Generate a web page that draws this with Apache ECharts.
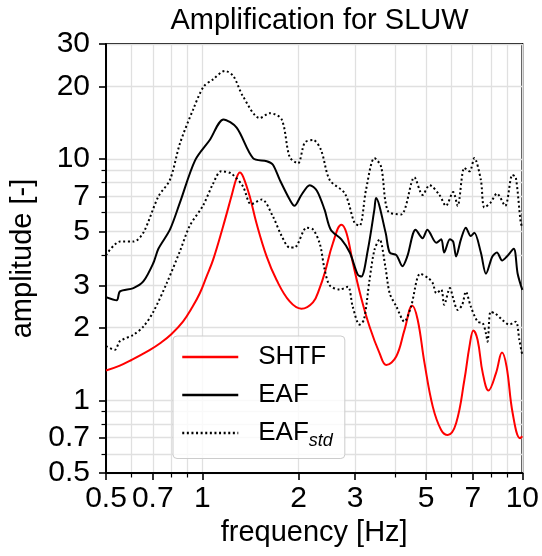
<!DOCTYPE html>
<html><head><meta charset="utf-8">
<script src="https://cdn.jsdelivr.net/npm/echarts@6/dist/echarts.min.js"></script>
<style>html,body{margin:0;padding:0;background:#fff}#c{width:542px;height:556px}</style>
</head><body><div id="c"></div>
<script>
const xTickLabels = [0.5, 0.7, 1, 2, 3, 5, 7, 10];
const xMinorTicks = [0.6, 0.8, 0.9, 4, 6, 8, 9];
const yTickLabels = [0.5, 0.7, 1, 2, 3, 5, 7, 10, 20, 30];
const yMinorTicks = [0.6, 0.8, 0.9, 4, 6, 8, 9];

const shtfFreq = [0.5, 0.55, 0.6, 0.686, 0.74, 0.8, 0.87, 0.93, 0.982, 1.03, 1.081, 1.161, 1.233, 1.279, 1.31, 1.341, 1.407, 1.476, 1.588, 1.705, 1.875, 2.039, 2.217, 2.326, 2.412, 2.56, 2.72, 2.82, 2.955, 3.139, 3.332, 3.579, 3.757, 4.036, 4.284, 4.53, 4.71, 4.946, 5.25, 5.576, 5.85, 6.21, 6.594, 6.835, 7.034, 7.25, 7.52, 7.84, 8.28, 8.64, 8.93, 9.33, 9.84, 10];
const shtfAmp = [1.33, 1.39, 1.47, 1.62, 1.73, 1.88, 2.12, 2.43, 2.78, 3.25, 3.83, 5.26, 7.01, 8.35, 8.81, 8.47, 7.0, 5.43, 3.95, 3.16, 2.57, 2.40, 2.55, 2.92, 3.37, 4.49, 5.35, 4.95, 3.71, 2.65, 2.02, 1.57, 1.40, 1.52, 1.96, 2.47, 2.16, 1.43, 0.942, 0.754, 0.719, 0.804, 1.22, 1.67, 1.95, 1.78, 1.30, 1.10, 1.30, 1.58, 1.38, 0.884, 0.697, 0.71];

const eafFreq = [0.5, 0.54, 0.553, 0.609, 0.654, 0.703, 0.729, 0.792, 0.851, 0.95, 1.055, 1.165, 1.28, 1.44, 1.59, 1.66, 1.746, 1.875, 1.94, 2.04, 2.166, 2.28, 2.41, 2.52, 2.72, 2.89, 3.06, 3.14, 3.29, 3.45, 3.49, 3.74, 3.85, 4.04, 4.22, 4.37, 4.64, 4.88, 5.05, 5.39, 5.58, 5.7, 5.94, 6.08, 6.21, 6.43, 6.66, 6.9, 7.08, 7.42, 7.7, 8.06, 8.33, 8.65, 8.95, 9.4, 9.67, 10];
const eafAmp = [2.68, 2.6, 2.83, 2.92, 3.11, 3.71, 4.25, 5.1, 6.6, 9.9, 12.0, 14.6, 13.5, 10.1, 9.8, 9.5, 8.2, 6.8, 6.4, 7.1, 7.8, 7.4, 6.17, 5.1, 4.65, 4.1, 3.32, 3.26, 4.2, 6.2, 6.9, 4.95, 4.1, 4.0, 3.6, 3.95, 5.1, 4.7, 5.1, 4.5, 4.65, 4.1, 4.65, 4.55, 3.95, 4.65, 5.2, 4.8, 4.95, 4.1, 3.35, 3.95, 4.1, 3.8, 3.95, 4.25, 3.35, 2.87];

const eafHiFreq = [0.5, 0.553, 0.609, 0.654, 0.729, 0.792, 0.851, 0.935, 1.01, 1.08, 1.176, 1.25, 1.34, 1.512, 1.625, 1.77, 1.875, 1.99, 2.09, 2.22, 2.35, 2.5, 2.79, 2.99, 3.10, 3.25, 3.45, 3.62, 3.8, 4.18, 4.6, 4.88, 5.13, 5.51, 5.77, 6.08, 6.28, 6.59, 6.84, 7.08, 7.42, 7.61, 7.96, 8.33, 8.84, 9.31, 9.54, 9.88, 10];
const eafHiAmp = [4.0, 4.55, 4.55, 4.95, 7.0, 8.2, 11.6, 16.0, 20.0, 21.4, 23.2, 22.1, 18.2, 14.8, 15.5, 14.6, 10.2, 9.6, 11.7, 12.0, 10.9, 8.2, 7.2, 5.44, 5.3, 7.5, 10.1, 9.3, 6.1, 5.9, 8.4, 7.1, 7.8, 7.1, 6.4, 7.3, 6.4, 9.2, 8.9, 10.1, 8.2, 6.3, 6.6, 7.2, 6.4, 8.6, 8.4, 5.5, 5.2];

const eafLoFreq = [0.5, 0.533, 0.553, 0.609, 0.654, 0.703, 0.774, 0.851, 0.914, 1.004, 1.08, 1.145, 1.233, 1.34, 1.42, 1.535, 1.66, 1.77, 1.875, 1.94, 2.12, 2.22, 2.33, 2.41, 2.5, 2.69, 2.85, 2.95, 3.10, 3.2, 3.33, 3.45, 3.58, 3.73, 3.85, 4.04, 4.28, 4.49, 4.8, 5.1, 5.25, 5.39, 5.58, 5.70, 5.94, 6.08, 6.28, 6.49, 6.66, 6.9, 7.25, 7.52, 7.7, 7.79, 7.96, 8.23, 8.65, 9.1, 9.54, 9.79, 9.95, 10];
const eafLoAmp = [1.68, 1.62, 1.76, 1.87, 2.02, 2.33, 3.06, 4.15, 5.3, 6.4, 7.9, 8.9, 8.7, 7.7, 6.5, 6.8, 5.8, 4.8, 4.3, 4.3, 5.2, 5.1, 4.45, 3.5, 3.0, 2.88, 2.96, 2.45, 2.06, 2.16, 3.15, 4.2, 4.65, 3.6, 2.78, 2.45, 2.12, 2.45, 3.35, 3.2, 3.06, 2.78, 2.88, 2.49, 2.92, 2.65, 2.37, 2.49, 2.82, 2.45, 2.12, 2.09, 1.89, 1.75, 2.33, 2.29, 2.16, 2.06, 2.12, 1.78, 1.59, 1.55];

const FONT = 'Liberation Sans, Arial, Helvetica, sans-serif';
const zip = (a, b) => a.map((v, i) => [v, b[i]]);
const fmt = v => String(+(+v).toPrecision(3));
const gridLine = { show: true, lineStyle: { color: '#e0e0e0', width: 1.3 } };

const chart = echarts.init(document.getElementById('c'), null, { renderer: 'canvas' });
chart.setOption({
  animation: false,
  backgroundColor: '#fff',
  title: {
    text: 'Amplification for SLUW', left: 314.5, top: 1, textAlign: 'center',
    textStyle: { fontSize: 29, fontWeight: 'normal', color: '#000', fontFamily: FONT }
  },
  grid: { left: 106, right: 19, top: 44, bottom: 83, show: true, borderColor: '#000', borderWidth: 2, backgroundColor: 'transparent' },
  legend: {
    orient: 'vertical', left: 173, top: 336,
    itemWidth: 56, itemHeight: 14, itemGap: 12,
    padding: [8, 12, 9, 8],
    backgroundColor: 'rgba(255,255,255,0.8)', borderColor: '#cccccc', borderWidth: 1, borderRadius: 4,
    selectedMode: false,
    itemStyle: { opacity: 0, borderWidth: 0 },
    lineStyle: { width: 2.5 },
    data: ['SHTF', 'EAF', 'EAF_std'],
    formatter: n => n === 'EAF_std' ? 'EAF{s|std}' : n,
    textStyle: {
      fontSize: 26, color: '#000', fontFamily: FONT, padding: [0, 0, 0, 15],
      rich: { s: { fontSize: 18, fontStyle: 'italic', color: '#000', fontFamily: FONT, padding: [15, 0, 0, 0] } }
    }
  },
  xAxis: [
    {
      type: 'log', logBase: 10, min: 0.5, max: 10, position: 'bottom', gridIndex: 0,
      axisLine: { show: true, lineStyle: { color: '#000', width: 2 } },
      axisTick: { show: true, customValues: xTickLabels, length: 7, lineStyle: { color: '#000', width: 1.6 } },
      axisLabel: { customValues: xTickLabels, formatter: fmt, fontSize: 30, color: '#000', margin: 11, fontFamily: FONT },
      splitLine: gridLine,
      name: 'frequency [Hz]', nameLocation: 'middle', nameGap: 41,
      nameTextStyle: { fontSize: 29, color: '#000', fontFamily: FONT }
    },
    {
      type: 'log', logBase: 10, min: 0.5, max: 10, position: 'bottom', gridIndex: 0, offset: 0,
      axisLine: { show: false },
      axisTick: { show: true, customValues: xMinorTicks, length: 4.5, lineStyle: { color: '#000', width: 1.2 } },
      axisLabel: { show: false },
      splitLine: gridLine
    }
  ],
  yAxis: [
    {
      type: 'log', logBase: 10, min: 0.5, max: 30, position: 'left', gridIndex: 0,
      axisLine: { show: true, lineStyle: { color: '#000', width: 2 } },
      axisTick: { show: true, customValues: yTickLabels, length: 7, lineStyle: { color: '#000', width: 1.6 } },
      axisLabel: { customValues: yTickLabels, formatter: fmt, fontSize: 30, color: '#000', margin: 16, fontFamily: FONT },
      splitLine: gridLine,
      name: 'amplitude [-]', nameLocation: 'middle', nameGap: 63, nameRotate: 90,
      nameTextStyle: { fontSize: 29, color: '#000', fontFamily: FONT }
    },
    {
      type: 'log', logBase: 10, min: 0.5, max: 30, position: 'left', gridIndex: 0, offset: 0,
      axisLine: { show: false },
      axisTick: { show: true, customValues: yMinorTicks, length: 4.5, lineStyle: { color: '#000', width: 1.2 } },
      axisLabel: { show: false },
      splitLine: gridLine
    }
  ],
  series: [
    { name: 'SHTF', type: 'line', xAxisIndex: 0, yAxisIndex: 0, data: zip(shtfFreq, shtfAmp), symbol: 'none', smooth: 0.4,
      lineStyle: { color: '#ff0000', width: 2 }, itemStyle: { color: '#ff0000' }, z: 3 },
    { name: 'EAF', type: 'line', xAxisIndex: 0, yAxisIndex: 0, data: zip(eafFreq, eafAmp), symbol: 'none', smooth: 0.3,
      lineStyle: { color: '#000', width: 2 }, itemStyle: { color: '#000' }, z: 3 },
    { name: 'EAF_std', type: 'line', xAxisIndex: 0, yAxisIndex: 0, data: zip(eafHiFreq, eafHiAmp), symbol: 'none', smooth: 0.3,
      lineStyle: { color: '#000', width: 2, type: [2, 2.6] }, itemStyle: { color: '#000' }, z: 3 },
    { name: 'EAF_std', type: 'line', xAxisIndex: 0, yAxisIndex: 0, data: zip(eafLoFreq, eafLoAmp), symbol: 'none', smooth: 0.3,
      lineStyle: { color: '#000', width: 2, type: [2, 2.6] }, itemStyle: { color: '#000' }, z: 3 }
  ]
});
</script></body></html>
